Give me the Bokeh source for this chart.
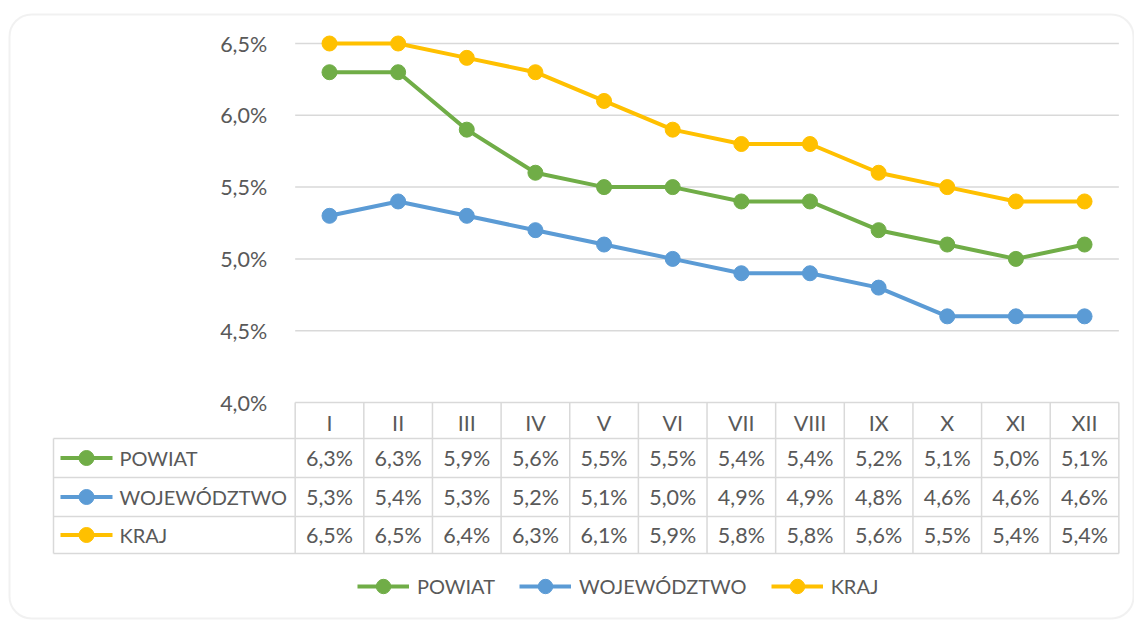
from bokeh.plotting import figure
from bokeh.models import (Range1d, FixedTicker, CustomJSTickFormatter, Legend, LegendItem,
                          BoxAnnotation, ColumnDataSource)
from bokeh.core.properties import value
from bokeh.embed import file_html
from bokeh.resources import INLINE

# ---- data ----
months = ["I", "II", "III", "IV", "V", "VI", "VII", "VIII", "IX", "X", "XI", "XII"]
series_names = ["POWIAT", "WOJEWÓDZTWO", "KRAJ"]
powiat = [6.3, 6.3, 5.9, 5.6, 5.5, 5.5, 5.4, 5.4, 5.2, 5.1, 5.0, 5.1]
wojewodztwo = [5.3, 5.4, 5.3, 5.2, 5.1, 5.0, 4.9, 4.9, 4.8, 4.6, 4.6, 4.6]
kraj = [6.5, 6.5, 6.4, 6.3, 6.1, 5.9, 5.8, 5.8, 5.6, 5.5, 5.4, 5.4]
y_ticks = [4.0, 4.5, 5.0, 5.5, 6.0, 6.5]

# ---- styles / layout ----
colors = ["#70AD47", "#5B9BD5", "#FFC000"]
FONT = "Lato"
TXT = "#595959"
GRID = "#d9d9d9"
FS = "21.5px"
FS_LBL = "20px"

W, H = 1134, 621
OFF = 0                      # page offset of the canvas
X0, DX = 329.0, 68.64        # page x of first month, px per month
Y65, DY = 43.0, 143.6        # page y of 6.5%, px per 1 percentage point
def px2x(px): return (px - X0) / DX
def py2y(py): return 6.5 - (py - Y65) / DY

p = figure(width=W, height=H, output_backend="svg", toolbar_location=None,
           x_range=Range1d(px2x(OFF), px2x(OFF + W)), y_range=Range1d(py2y(OFF + H), py2y(OFF)),
           min_border=0, outline_line_color=None, background_fill_color="white",
           border_fill_color="white")
p.xgrid.visible = False
p.ygrid.visible = False

# y axis (labels only) at left edge of plot area
ya = p.yaxis[0]
ya.fixed_location = -0.5
ya.ticker = FixedTicker(ticks=y_ticks)
ya.formatter = CustomJSTickFormatter(code="return tick.toFixed(1).replace('.', ',') + '%'")
ya.axis_line_color = None
ya.major_tick_line_color = None
ya.minor_tick_line_color = None
ya.major_label_standoff = 22
ya.major_label_text_font = FONT
ya.major_label_text_font_size = FS
ya.major_label_text_color = TXT

# x axis: month labels in table header row
xa = p.xaxis[0]
xa.fixed_location = y_ticks[0]
xa.ticker = FixedTicker(ticks=list(range(len(months))))
xa.major_label_overrides = {i: m for i, m in enumerate(months)}
xa.axis_line_color = None
xa.major_tick_line_color = None
xa.minor_tick_line_color = None
xa.major_label_standoff = 1
xa.major_label_text_font = FONT
xa.major_label_text_font_size = FS
xa.major_label_text_color = TXT

# gridlines across plot area
p.segment(x0=-0.5, x1=len(months) - 0.5, y0=y_ticks, y1=y_ticks, line_color=GRID, line_width=1.5)

# outer rounded frame
p.add_layout(BoxAnnotation(left=px2x(9), right=px2x(1133), top=py2y(14), bottom=py2y(618),
                           fill_color=None, line_color="#d0d0d0", line_width=2, border_radius=22,
                           level="underlay"))

# ---- table ----
row_edges_px = [438, 477, 516, 553]
tab_left = px2x(53)
tab_right = len(months) - 0.5
row_edges = [py2y(v) for v in row_edges_px]
p.segment(x0=tab_left, x1=tab_right, y0=row_edges, y1=row_edges, line_color=GRID, line_width=1.5)
col_edges = [i - 0.5 for i in range(len(months) + 1)]
p.segment(x0=col_edges, x1=col_edges, y0=y_ticks[0], y1=row_edges[-1], line_color=GRID, line_width=1.5)
p.segment(x0=tab_left, x1=tab_left, y0=row_edges[0], y1=row_edges[-1], line_color=GRID, line_width=1.5)

all_series = [powiat, wojewodztwo, kraj]
legend_items = []
for k, (name, vals, col) in enumerate(zip(series_names, all_series, colors)):
    xs = list(range(len(months)))
    lr = p.line(xs, vals, line_color=col, line_width=4)
    sr = p.scatter(xs, vals, size=15, fill_color=col, line_color=col)
    legend_items.append(LegendItem(label=name, renderers=[lr, sr]))
    # table row
    yc = (row_edges[k] + row_edges[k + 1]) / 2
    src = ColumnDataSource(dict(x=xs, y=[yc] * len(xs),
                                t=[f"{v:.1f}%".replace(".", ",") for v in vals]))
    p.text(x="x", y="y", text="t", source=src, text_align="center", text_baseline="middle",
           text_font=value(FONT), text_font_size=FS, text_color=TXT)
    # row key
    p.segment(x0=px2x(60), x1=px2x(112), y0=yc, y1=yc, line_color=col, line_width=4)
    p.scatter(x=[px2x(86)], y=[yc], size=15, fill_color=col, line_color=col)
    p.text(x=[px2x(119)], y=[yc], text=[name], text_align="left", text_baseline="middle",
           text_font=value(FONT), text_font_size=FS_LBL, text_color=TXT)

legend = Legend(items=legend_items, orientation="horizontal", location=(357 - OFF, OFF + H - 604),
                glyph_width=52, glyph_height=36, label_standoff=8, spacing=24,
                padding=0, margin=0, border_line_color=None, background_fill_alpha=0,
                label_text_font=FONT, label_text_font_size=FS_LBL, label_text_color=TXT)
p.add_layout(legend)

open("out.html", "w").write(file_html(p, INLINE))
